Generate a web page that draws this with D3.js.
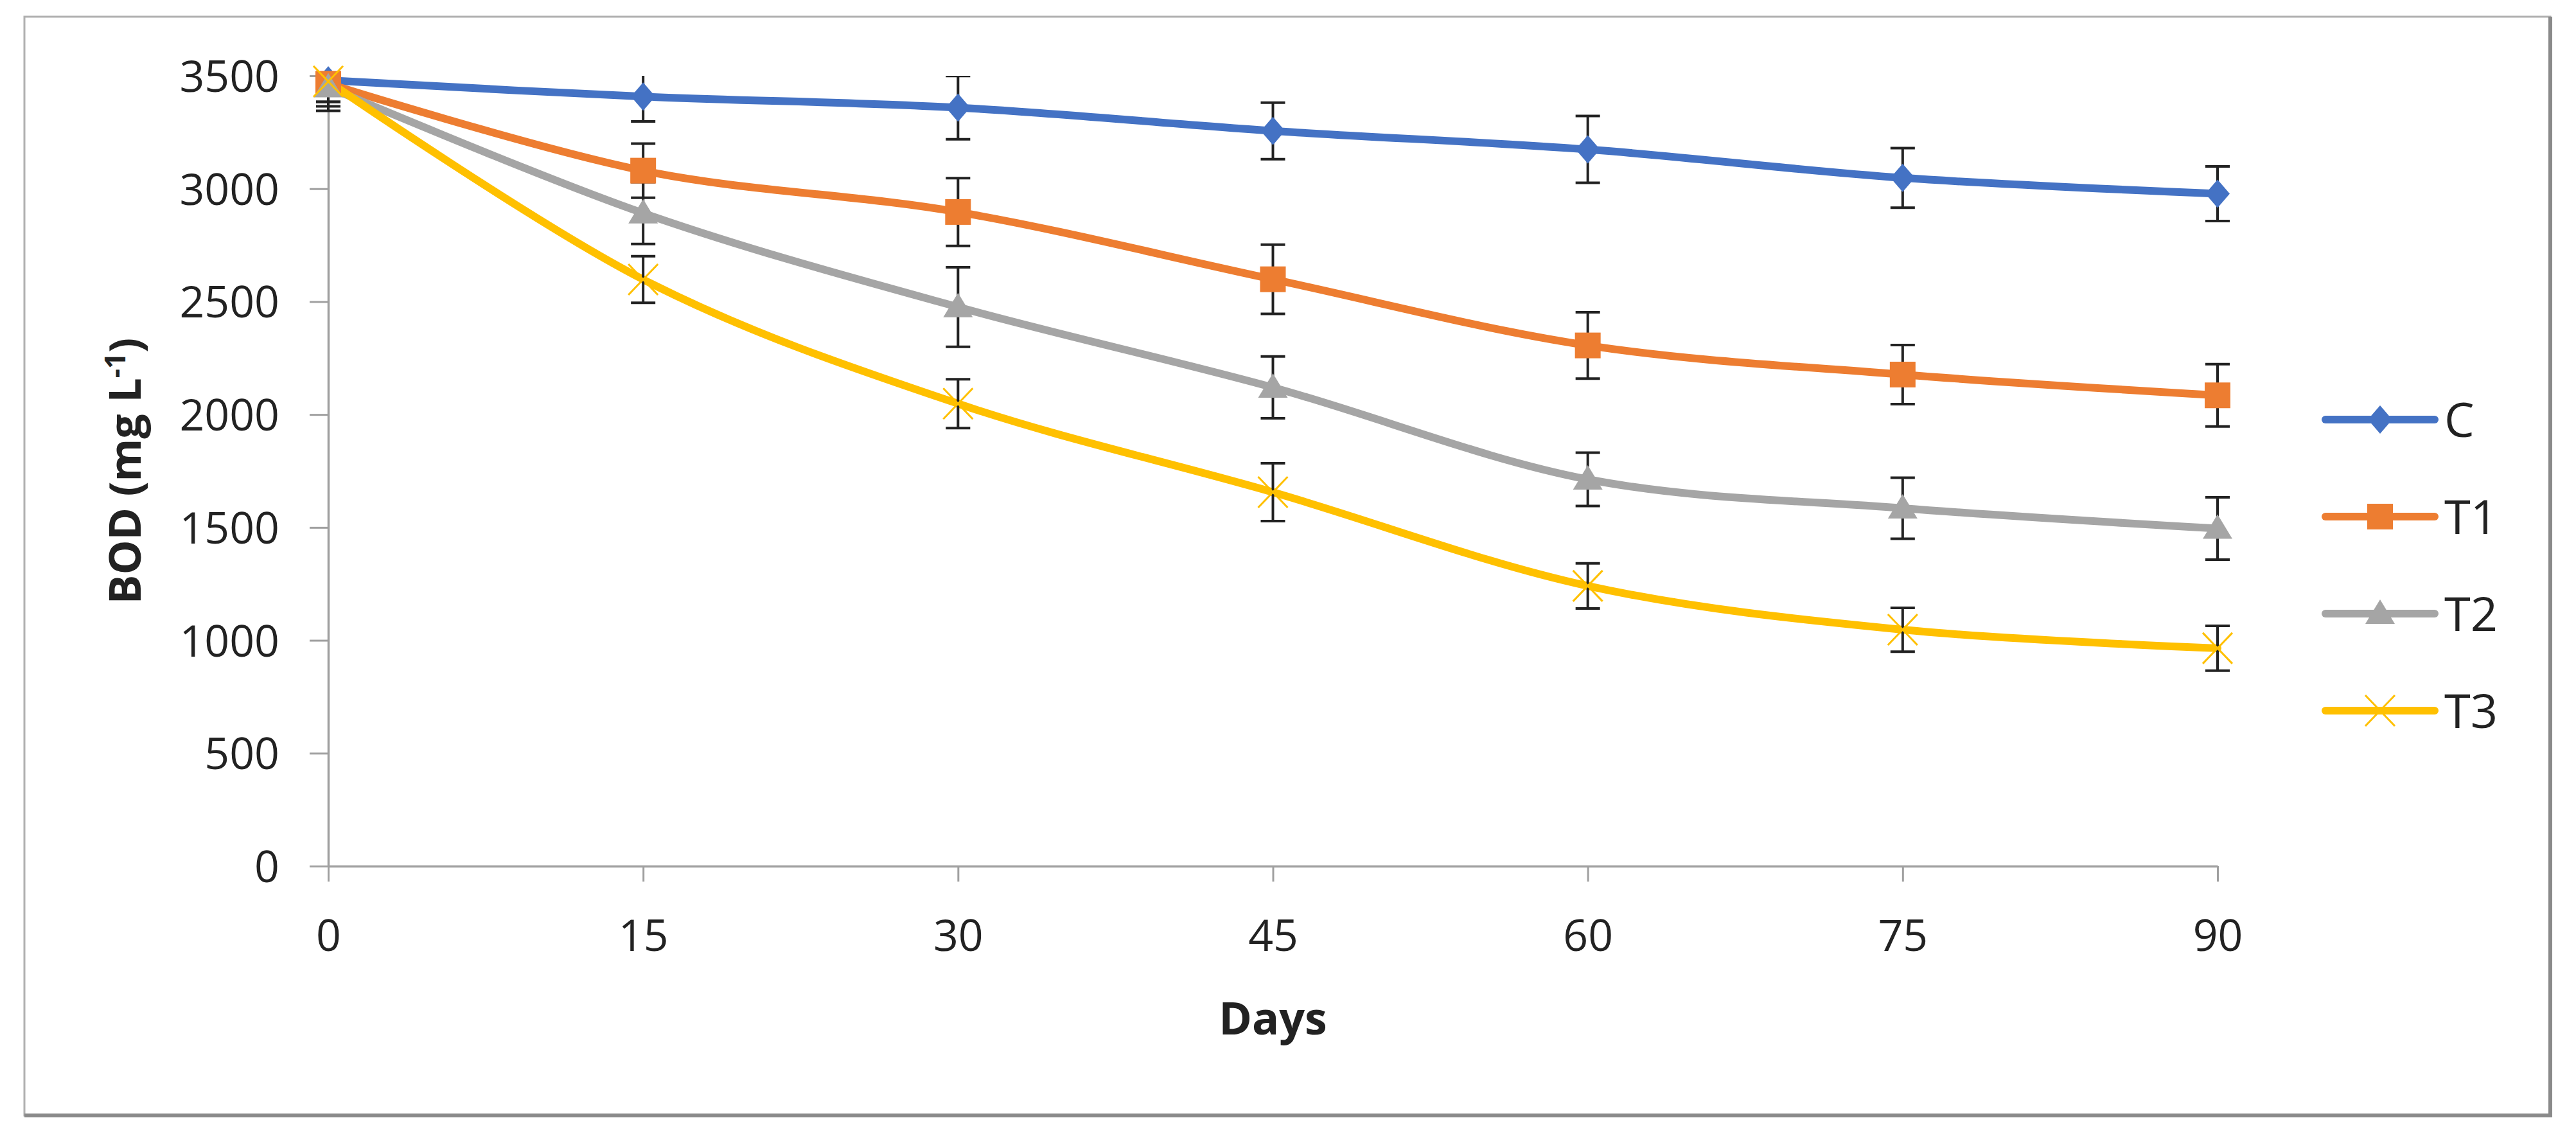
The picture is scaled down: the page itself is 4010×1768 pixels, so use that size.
<!DOCTYPE html>
<html>
<head>
<meta charset="utf-8">
<script src="https://cdn.jsdelivr.net/npm/d3@7"></script>
<style>
  body { margin: 0; background: #fff; }
  text { font-family: "Open Sans", "Liberation Sans", sans-serif; fill: #222; }
</style>
</head>
<body>
<div class="svg-container"></div>
<script>
var width = 4010,
  height = 1768;

// data
var days = [0, 15, 30, 45, 60, 75, 90];
var seriesNames = ["C", "T1", "T2", "T3"];
var valC  = [3480, 3408, 3359, 3256, 3174, 3048, 2978];
var valT1 = [3465, 3080, 2897, 2599, 2306, 2177, 2085];
var valT2 = [3450, 2892, 2476, 2120, 1713, 1585, 1495];
var valT3 = [3475, 2598, 2048, 1656, 1241, 1047, 965];
var errC  = [95, 110, 140, 125, 148, 132, 121];
var errT1 = [100, 120, 150, 153, 147, 131, 138];
var errT2 = [105, 137, 176, 137, 118, 135, 138];
var errT3 = [90, 103, 108, 128, 100, 97, 99];
var yTicks = [0, 500, 1000, 1500, 2000, 2500, 3000, 3500];
var xTicks = [0, 15, 30, 45, 60, 75, 90];

var colors = ["#4472C4", "#ED7D31", "#A5A5A5", "#FFC000"];
var markers = ["diamond", "square", "triangle", "cross"];

var series = seriesNames.map(function(name, i) {
  var vals = [valC, valT1, valT2, valT3][i];
  var errs = [errC, errT1, errT2, errT3][i];
  return {
    name: name,
    color: colors[i],
    marker: markers[i],
    points: days.map(function(d, j) { return {day: d, v: vals[j], e: errs[j]}; })
  };
});

var svg = d3.select(".svg-container").append("svg")
  .attr("width", width)
  .attr("height", height);

// outer frame
svg.append("rect")
  .attr("x", 38).attr("y", 26)
  .attr("width", 3932).attr("height", 1710)
  .attr("fill", "none")
  .attr("stroke", "#b0b0b0")
  .attr("stroke-width", 3);
svg.append("path")
  .attr("d", "M3970,26V1736H38")
  .attr("fill", "none")
  .attr("stroke", "#8a8a8a")
  .attr("stroke-width", 6);

var x = d3.scaleLinear().domain([0, 90]).range([511, 3452]);
var y = d3.scaleLinear().domain([0, 3500]).range([1348, 118]);

// y axis
var yAxis = svg.append("g")
  .attr("transform", "translate(" + x(0) + ",0)")
  .call(d3.axisLeft(y).tickValues(yTicks).tickFormat(d3.format("d"))
    .tickSize(29).tickSizeOuter(0).tickPadding(47));
yAxis.selectAll("text")
  .style("font-size", "68px")
  .attr("dy", "0.36em");

// x axis
var xAxis = svg.append("g")
  .attr("transform", "translate(0," + y(0) + ")")
  .call(d3.axisBottom(x).tickValues(xTicks).tickFormat(d3.format("d"))
    .tickSize(24).tickSizeOuter(0));
xAxis.selectAll("text")
  .style("font-size", "68px")
  .attr("y", 132)
  .attr("dy", 0);

svg.selectAll(".domain").attr("stroke", "#a0a0a0").attr("stroke-width", 3.5);
svg.selectAll(".tick line").attr("stroke", "#a0a0a0").attr("stroke-width", 3);
svg.selectAll(".tick text").attr("fill", "#222");

// axis titles
svg.append("text")
  .attr("x", x(45))
  .attr("y", 1610)
  .attr("text-anchor", "middle")
  .style("font-size", "70px")
  .style("font-weight", "bold")
  .text("Days");

var yTitle = svg.append("text")
  .attr("transform", "translate(219,733) rotate(-90)")
  .attr("text-anchor", "middle")
  .style("font-size", "68px")
  .style("font-weight", "bold");
yTitle.append("tspan").text("BOD (mg L");
yTitle.append("tspan").attr("dy", -24).style("font-size", "44px").text("-1");
yTitle.append("tspan").attr("dy", 24).text(")");

// clip for error bars
svg.append("clipPath").attr("id", "plot-clip")
  .append("rect")
  .attr("x", 0).attr("y", y(3500))
  .attr("width", width).attr("height", y(0) - y(3500));

var line = d3.line()
  .x(function(d) { return x(d.day); })
  .y(function(d) { return y(d.v); })
  .curve(d3.curveCardinal.tension(0));

svg.append("g").selectAll("path")
  .data(series)
  .enter()
  .append("path")
  .attr("d", function(s) { return line(s.points); })
  .attr("fill", "none")
  .attr("stroke", function(s) { return s.color; })
  .attr("stroke-width", 12)
  .attr("stroke-linecap", "round");

// error bars
var errG = svg.append("g").attr("clip-path", "url(#plot-clip)");
series.forEach(function(s) {
  var eb = errG.append("g").selectAll("g")
    .data(s.points)
    .enter()
    .append("g")
    .attr("stroke", "#222")
    .attr("stroke-width", 4);
  eb.append("line")
    .attr("x1", function(d) { return x(d.day); })
    .attr("x2", function(d) { return x(d.day); })
    .attr("y1", function(d) { return y(d.v + d.e); })
    .attr("y2", function(d) { return y(d.v - d.e); });
  eb.append("line")
    .attr("x1", function(d) { return x(d.day) - 19; })
    .attr("x2", function(d) { return x(d.day) + 19; })
    .attr("y1", function(d) { return y(d.v + d.e); })
    .attr("y2", function(d) { return y(d.v + d.e); });
  eb.append("line")
    .attr("x1", function(d) { return x(d.day) - 19; })
    .attr("x2", function(d) { return x(d.day) + 19; })
    .attr("y1", function(d) { return y(d.v - d.e); })
    .attr("y2", function(d) { return y(d.v - d.e); });
});

var drawMarker = function(g, type, color) {
  if (type == "diamond") {
    g.append("path").attr("d", "M0,-22L19,0L0,22L-19,0Z").attr("fill", color);
  } else if (type == "square") {
    g.append("rect").attr("x", -20).attr("y", -20).attr("width", 40).attr("height", 40).attr("fill", color);
  } else if (type == "triangle") {
    g.append("path").attr("d", "M0,-22L23,16L-23,16Z").attr("fill", color);
  } else {
    g.append("path").attr("d", "M-23,-24L23,24M-23,24L23,-24")
      .attr("stroke", color).attr("stroke-width", 3).attr("fill", "none");
  }
};

series.forEach(function(s) {
  svg.append("g").selectAll("g")
    .data(s.points)
    .enter()
    .append("g")
    .attr("transform", function(d) { return "translate(" + x(d.day) + "," + y(d.v) + ")"; })
    .each(function() { drawMarker(d3.select(this), s.marker, s.color); });
});

// legend
var legend = svg.append("g").selectAll("g")
  .data(series)
  .enter()
  .append("g")
  .attr("transform", function(d, i) { return "translate(3620," + (653 + i * 151) + ")"; });
legend.append("line")
  .attr("x1", 0).attr("x2", 170)
  .attr("stroke", function(d) { return d.color; })
  .attr("stroke-width", 12)
  .attr("stroke-linecap", "round");
legend.append("g")
  .attr("transform", "translate(85,0)")
  .each(function(d) { drawMarker(d3.select(this), d.marker, d.color); });
legend.append("text")
  .attr("x", 185)
  .attr("y", 27)
  .style("font-size", "74px")
  .text(function(d) { return d.name; });
</script>
</body>
</html>
